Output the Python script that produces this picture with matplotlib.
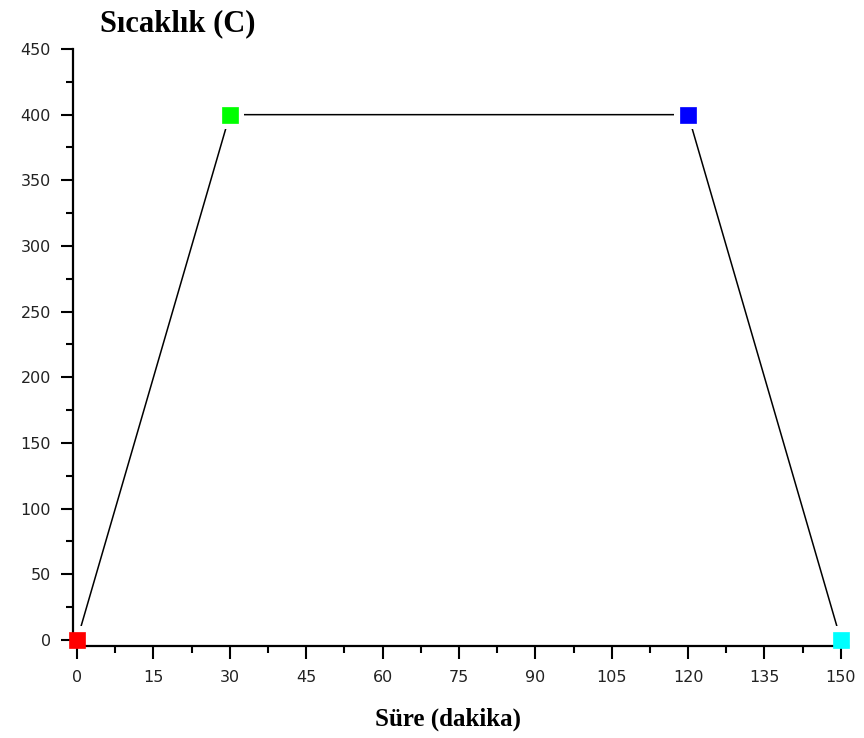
import matplotlib
matplotlib.use("Agg")
import matplotlib.pyplot as plt
from matplotlib.ticker import MultipleLocator

time_min = [0, 30, 120, 150]
temp_c = [0, 400, 400, 0]
point_colors = ["#ff0000", "#00ff00", "#0000ff", "#00ffff"]
x_ticks = [0, 15, 30, 45, 60, 75, 90, 105, 120, 135, 150]
y_ticks = [0, 50, 100, 150, 200, 250, 300, 350, 400, 450]

fig = plt.figure(figsize=(8.64, 7.38), dpi=100)
ax = fig.add_axes([73/864, 1-646/738, (848-73)/864, (646-49)/738])
ax.set_axisbelow(False)

ax.plot(time_min, temp_c, color="black", lw=1.1, zorder=2)
# white halo to create gaps around markers
ax.plot(time_min, temp_c, ls="none", marker="s", ms=20, mfc="white", mec="white",
        mew=0, zorder=2.2, clip_on=False)
for x, y, c in zip(time_min, temp_c, point_colors):
    ax.plot([x], [y], ls="none", marker="s", ms=11.5, mfc=c, mec=c, mew=0.5,
            zorder=3, clip_on=False)

ax.set_xlim(-0.8, 151.4)
ax.set_ylim(-4.6, 450)
ax.set_xticks(x_ticks)
ax.set_yticks(y_ticks)
ax.xaxis.set_minor_locator(MultipleLocator(7.5))
ax.yaxis.set_minor_locator(MultipleLocator(25))

for s in ["top", "right"]:
    ax.spines[s].set_visible(False)
for s in ["left", "bottom"]:
    ax.spines[s].set_linewidth(1.6)
    ax.spines[s].set_zorder(2.5)
ax.spines["left"].set_bounds(-4.6, 450)

ax.tick_params(which="major", length=9, width=1.5, direction="out",
               labelsize=11.5)
ax.tick_params(axis="y", which="major", pad=7)
ax.tick_params(axis="x", which="major", pad=8)
ax.tick_params(which="minor", length=5, width=1.5, direction="out")
for lab in ax.get_xticklabels() + ax.get_yticklabels():
    lab.set_fontfamily("DejaVu Sans")
    lab.set_color("#222222")

fig.text(100/864, 1-24/738, "Sıcaklık (C)", fontsize=22, fontweight="bold",
         family="Liberation Serif", ha="left", va="center")
fig.text(448/864, 1-719/738, "Süre (dakika)", fontsize=18, fontweight="bold",
         family="Liberation Serif", ha="center", va="center")

fig.savefig("out.png", dpi=100)
